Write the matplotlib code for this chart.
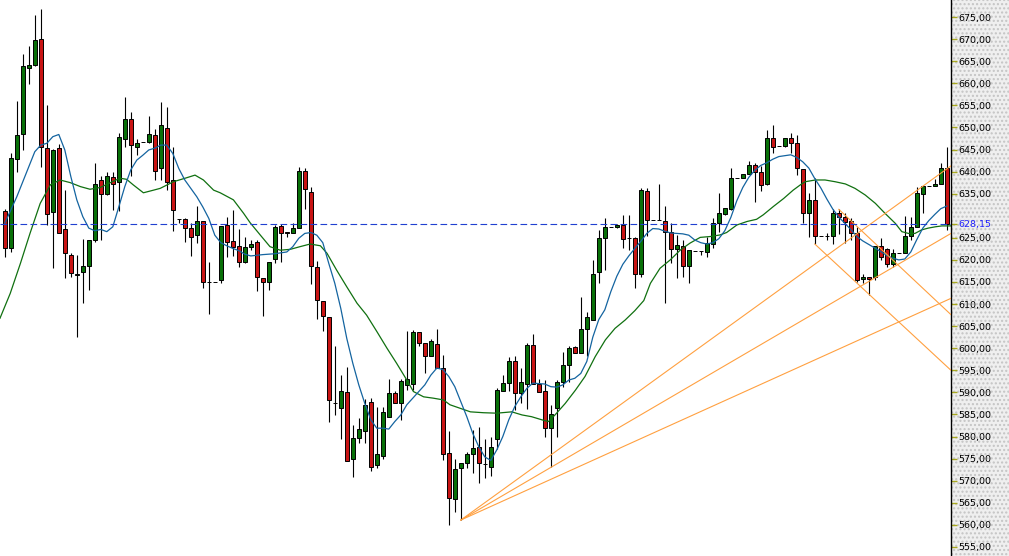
import matplotlib.pyplot as plt
import numpy as np
from matplotlib.patches import Rectangle

# daily candles (index 0 = leftmost)
opens = [631.1, 622.6, 642.8, 648.4, 663.4, 664.1, 670.0, 645.3, 630.9, 645.3,
         626.9, 621.1, 616.5, 617.3, 618.7, 624.4, 638.2, 634.85, 638.85, 637.7,
         647.3, 652.0, 645.5, 646.6, 646.6, 648.3, 640.7, 649.95, 638.1, 629.2,
         629.2, 627.15, 625.65, 628.85, 615.1, 614.9, 615.45, 627.9, 624.3, 623.15,
         619.6, 622.85, 624.0, 615.8, 615.1, 620.1, 627.7, 626.3, 626.0, 627.15,
         640.1, 635.3, 618.3, 610.8, 607.0, 587.6, 586.4, 590.0, 574.85, 579.6,
         581.35, 587.8, 573.6, 575.7, 584.5, 589.8, 587.7, 591.7, 591.8, 603.6,
         601.1, 598.25, 600.9, 595.6, 576.2, 565.8, 572.8, 574.1, 576.0, 577.7,
         573.7, 573.2, 579.4, 590.4, 592.1, 597.1, 589.8, 591.9, 600.7, 591.8,
         590.4, 582.0, 586.55, 592.4, 596.1, 600.2, 599.0, 604.3, 606.4, 617.3,
         624.9, 627.4, 627.4, 627.9, 625.0, 624.9, 616.7, 635.6, 629.0, 629.0,
         628.8, 626.4, 622.4, 623.2, 618.7, 622.1, 622.1, 621.9, 623.6, 628.3,
         630.4, 631.5, 638.5, 638.5, 639.45, 641.5, 639.8, 637.1, 647.5, 645.8,
         645.8, 647.5, 646.4, 640.5, 630.55, 633.6, 625.4, 625.4, 625.5, 630.55,
         629.8, 628.7, 626.2, 615.6, 616.1, 616.2, 623.15, 622.4, 619.1, 621.5,
         621.5, 625.4, 627.4, 634.9, 636.7, 636.7, 637.1, 640.7]
highs = [631.5, 644.1, 656.0, 666.6, 668.4, 675.5, 676.8, 655.1, 645.2, 646.2,
         635.8, 621.6, 621.1, 624.7, 624.5, 641.9, 639.0, 640.0, 639.8, 648.8,
         656.8, 653.4, 647.3, 646.6, 652.6, 649.6, 655.8, 654.7, 645.6, 629.3,
         629.4, 628.4, 632.2, 628.85, 619.6, 614.9, 627.7, 629.8, 631.2, 626.9,
         625.1, 624.4, 624.4, 615.8, 619.6, 627.9, 628.05, 626.3, 628.4, 640.95,
         640.7, 636.4, 619.8, 610.8, 607.0, 600.5, 594.0, 595.8, 582.6, 584.1,
         588.4, 588.7, 586.8, 586.8, 593.0, 590.3, 593.0, 603.8, 604.1, 603.75,
         601.1, 602.2, 604.3, 598.5, 581.3, 574.9, 574.1, 576.4, 581.5, 582.1,
         579.4, 580.0, 590.9, 594.0, 598.1, 598.25, 595.5, 601.3, 603.2, 593.0,
         592.8, 587.2, 592.7, 599.1, 600.5, 600.5, 611.5, 608.1, 620.0, 626.8,
         629.6, 627.4, 628.1, 630.2, 630.2, 625.1, 636.2, 636.2, 629.0, 637.3,
         632.1, 628.3, 625.7, 624.5, 622.25, 622.1, 622.1, 625.3, 629.4, 635.2,
         631.7, 640.7, 638.5, 639.45, 642.5, 641.9, 641.3, 649.4, 650.55, 645.8,
         647.5, 648.8, 648.3, 640.5, 635.2, 638.5, 625.4, 626.0, 631.45, 631.45,
         630.55, 629.4, 627.4, 616.8, 616.2, 623.2, 624.9, 622.6, 622.4, 621.5,
         629.9, 629.8, 636.6, 636.7, 636.7, 638.25, 641.9, 645.6]
lows = [620.6, 621.9, 639.8, 645.0, 659.8, 664.0, 641.1, 627.8, 618.2, 626.0,
        615.8, 616.2, 602.5, 610.3, 613.2, 624.1, 624.4, 634.8, 631.2, 631.0,
        645.6, 639.1, 643.75, 646.6, 646.4, 638.1, 638.1, 635.8, 626.6, 628.4,
        624.1, 620.9, 623.9, 613.6, 607.7, 614.9, 614.7, 620.7, 620.9, 618.5,
        619.2, 622.2, 613.0, 607.4, 613.3, 619.2, 619.6, 625.3, 626.0, 627.15,
        631.45, 614.5, 606.55, 603.8, 583.2, 584.9, 579.4, 574.5, 570.9, 578.5,
        578.5, 572.3, 572.8, 574.85, 584.5, 587.5, 583.8, 590.55, 590.5, 600.4,
        594.5, 598.2, 595.6, 574.7, 560.0, 563.0, 561.1, 572.8, 571.7, 569.4,
        570.6, 571.1, 577.1, 590.4, 590.4, 586.0, 587.5, 586.2, 591.8, 590.0,
        580.0, 573.2, 580.0, 591.3, 592.4, 599.0, 599.0, 598.25, 606.4, 614.7,
        617.7, 627.4, 627.2, 622.8, 622.25, 613.6, 616.2, 625.4, 629.0, 629.0,
        610.3, 619.2, 615.8, 616.2, 614.85, 622.1, 621.1, 620.6, 622.6, 626.4,
        630.2, 631.3, 638.5, 638.5, 639.45, 633.0, 635.5, 637.0, 644.1, 645.8,
        645.6, 644.1, 639.2, 628.3, 625.1, 623.6, 625.4, 624.5, 623.6, 625.9,
        623.9, 624.5, 615.1, 614.7, 612.1, 615.45, 620.0, 618.5, 618.5, 621.5,
        621.5, 624.4, 627.4, 630.7, 636.7, 636.7, 637.1, 626.8]
closes = [622.6, 643.0, 648.3, 663.9, 664.1, 669.8, 645.6, 630.5, 644.9, 626.2,
          621.5, 617.0, 616.9, 618.6, 624.5, 637.2, 634.85, 639.0, 637.3, 647.9,
          651.9, 646.0, 646.55, 646.6, 648.4, 640.2, 650.5, 637.7, 631.2, 629.2,
          627.15, 625.1, 628.85, 615.1, 615.1, 614.9, 627.7, 624.1, 623.0, 619.6,
          622.85, 623.6, 616.1, 615.1, 619.6, 627.5, 626.2, 626.2, 627.15, 640.1,
          636.0, 618.6, 610.9, 607.3, 588.3, 587.5, 590.3, 574.5, 579.6, 581.7,
          587.2, 573.0, 576.0, 585.65, 589.8, 587.7, 592.6, 592.95, 603.75, 601.3,
          598.2, 601.6, 595.6, 576.0, 566.2, 572.6, 574.1, 575.98, 577.5, 574.1,
          573.7, 577.6, 590.5, 592.1, 597.1, 589.8, 592.4, 600.7, 591.8, 590.0,
          582.0, 585.05, 592.4, 596.2, 600.0, 599.0, 604.3, 607.0, 616.7, 624.9,
          627.4, 627.4, 627.8, 624.7, 625.0, 616.7, 635.8, 629.0, 629.0, 629.0,
          626.25, 622.4, 623.4, 618.7, 622.25, 622.1, 622.1, 623.8, 628.3, 630.55,
          631.7, 638.5, 638.5, 639.45, 641.5, 639.8, 637.0, 647.5, 645.6, 645.8,
          647.5, 646.4, 640.7, 630.55, 633.6, 625.4, 625.4, 625.4, 630.55, 629.65,
          628.5, 626.0, 615.45, 616.1, 615.6, 623.2, 620.6, 619.1, 621.5, 621.5,
          625.4, 627.5, 635.2, 636.7, 636.7, 637.2, 640.7, 628.15]

# short moving average (blue), read at candle positions
blue_idx = list(range(0, 42)) + [43, 45, 47] + list(range(48, 158))
blue_val = [628.3, 631.3, 634.3, 637.7, 641.1, 644.5, 646.0, 646.4, 647.9, 648.4,
            644.9, 638.9, 633.6, 629.8, 627.2, 626.6, 626.9, 626.4, 627.5, 632.0,
            636.6, 640.4, 642.6, 643.7, 644.9, 645.3, 646.0, 646.0, 644.1, 640.7,
            638.1, 636.2, 634.3, 632.0, 629.4, 625.6, 623.9, 623.2, 622.6, 622.1,
            621.3, 620.9, 621.2, 621.4, 621.8,
            623.0, 624.9, 626.0, 626.2, 625.6, 623.9, 619.2, 614.7, 609.0, 602.2,
            596.6, 591.7, 587.5, 583.8, 581.9, 581.9, 581.7, 583.4, 584.9, 587.2,
            588.7, 590.2, 591.7, 593.9, 595.5, 595.2, 593.6, 591.3, 587.9, 584.5,
            580.7, 577.7, 575.4, 574.6, 577.0, 580.0, 583.8, 586.8, 589.0, 590.9,
            592.1, 592.0, 591.9, 591.3, 591.2, 591.7, 592.8, 593.2, 594.3, 597.0,
            602.5, 606.5, 608.7, 612.8, 616.3, 619.0, 620.9, 622.6, 624.2, 626.0,
            627.1, 627.0, 626.5, 626.1, 626.0, 625.9, 625.6, 624.5, 623.9, 623.6,
            623.9, 624.8, 626.6, 629.6, 633.4, 636.4, 638.7, 640.3, 641.4, 642.0,
            642.8, 643.4, 643.6, 643.8, 643.2, 642.2, 640.8, 638.4, 636.3, 633.8,
            631.5, 629.7, 628.3, 626.9, 625.3, 624.3, 623.5, 622.7, 621.9, 621.0,
            620.4, 620.0, 620.2, 621.8, 624.6, 627.2, 628.9, 630.3, 631.6, 632.2]

# long moving average (green), read at candle positions
green_idx = [-0.8, 0.9, 2.6, 4.2, 5.9, 7.6, 9.2, 10.9, 12.6, 14.2,
             15.9, 17.6, 19.2, 20.3, 21.4, 23.1, 24.8, 25.9, 28.1, 30.3,
             31.7, 33.1, 34.8, 35.9, 38.1, 39.8, 40.9, 42.6, 44.2, 45.9,
             47.6, 49.2, 50.9, 52.6, 53.7, 55.3, 57.0, 58.7, 60.3, 62.0,
             63.7, 65.3, 67.0, 68.1, 69.8, 71.4, 73.1, 74.2, 75.9, 77.6,
             79.8, 82.0, 84.5, 86.2, 87.8, 89.5, 90.6, 91.7, 93.4, 95.1,
             96.7, 98.4, 100.1, 101.7, 103.4, 105.0, 106.5, 107.6, 109.2, 110.9,
             112.6, 114.2, 115.9, 117.6, 119.2, 120.3, 122.0, 123.7, 125.3, 126.4,
             128.1, 129.8, 131.4, 132.6, 133.4, 135.1, 136.7, 138.4, 140.1, 141.7,
             143.4, 145.1, 146.7, 148.4, 149.5, 150.6, 151.7, 152.8, 153.9, 155.1,
             156.2, 157.7]
green_val = [606.8, 612.4, 619.2, 626.0, 632.8, 637.0, 638.1, 637.5, 636.6, 636.0,
             636.4, 637.5, 638.5, 638.25, 637.0, 635.2, 635.8, 636.2, 637.7, 638.6,
             639.2, 638.1, 635.8, 635.2, 633.6, 630.55, 628.4, 625.6, 623.0, 622.2,
             622.4, 623.0, 623.6, 623.2, 621.5, 617.7, 613.9, 610.2, 607.5, 603.8,
             600.0, 596.6, 592.8, 590.2, 589.0, 588.7, 588.3, 587.2, 586.4, 585.6,
             585.4, 585.3, 585.6, 584.9, 584.5, 583.8, 583.4, 584.9, 587.5, 590.5,
             593.6, 598.1, 601.9, 604.5, 606.4, 608.5, 610.8, 614.7, 618.1, 620.0,
             622.25, 623.8, 625.1, 625.3, 625.65, 626.2, 627.9, 628.7, 629.2, 630.2,
             632.1, 633.9, 635.8, 637.0, 637.7, 638.1, 638.1, 637.7, 637.2, 636.2,
             634.7, 632.8, 630.55, 628.3, 626.4, 626.0, 626.0, 626.8, 627.2, 627.5,
             627.7, 627.7]

# fan from the low of candle 76, price of each ray at the right edge
fan_origin_idx = 76
fan_end_prices = [641.3, 626.0, 611.3]
# two falling lines: start candle, start price, price at the right edge
down_start_idx = [139, 135]
down_start_price = [631.45, 623.6]
down_end_prices = [607.6, 595.0]

last_price = 628.15
price_ticks = [p for p in range(555, 680, 5) if p != 630]

n = len(closes)
x = np.arange(n)
o = np.array(opens)
c = np.array(closes)
x_right = n - 0.3

fig = plt.figure(figsize=(10.09, 5.56), dpi=100)
fig.patch.set_facecolor("#ececec")
# dotted grey price panel on the right, kept behind the axes
fig.patches.append(Rectangle((951 / 1009, 0), 58 / 1009, 1, transform=fig.transFigure,
                             facecolor="#efefef", edgecolor="#c4c4c4", hatch="....",
                             linewidth=0, zorder=-5))
ax = fig.add_axes([0, 0, 951 / 1009, 1])
ax.set_zorder(2)
ax.set_facecolor("white")

ax.vlines(x, lows, highs, color="black", linewidth=0.8, zorder=2)
up = c >= o
body_lo = np.minimum(o, c)
body_h = np.abs(c - o)
ax.bar(x[up], body_h[up], bottom=body_lo[up], width=0.72,
       color="#087008", edgecolor="black", linewidth=0.7, zorder=3)
ax.bar(x[~up], body_h[~up], bottom=body_lo[~up], width=0.72,
       color="#c81414", edgecolor="black", linewidth=0.7, zorder=3)

ax.plot(green_idx, green_val, color="#107010", linewidth=0.9, zorder=4)
ax.plot(blue_idx, blue_val, color="#1464a0", linewidth=0.9, zorder=4)

fan_p0 = lows[fan_origin_idx]
for pe in fan_end_prices:
    ax.plot([fan_origin_idx, x_right], [fan_p0, pe], color="#ffa040",
            linewidth=0.8, zorder=5)
for xs, ps, pe in zip(down_start_idx, down_start_price, down_end_prices):
    ax.plot([xs, x_right], [ps, pe], color="#ffa040", linewidth=0.8, zorder=5)

ax.axhline(last_price, color="#2040d0", linewidth=0.8,
           linestyle=(0, (6, 3)), zorder=5)

ax.set_xlim(-0.8, x_right)
ax.set_ylim(552.96, 678.85)
ax.set_xticks([])

ticks = price_ticks + [last_price]
labels = [f"{p:.2f}".replace(".", ",") for p in ticks]
ax.yaxis.tick_right()
ax.set_yticks(ticks)
ax.set_yticklabels(labels)
ax.tick_params(axis="y", direction="out", length=4, width=1,
               color="#a8a820", pad=1, labelsize=6.8, labelcolor="black")
ax.get_yticklabels()[-1].set_color("#2020ff")

for s in ["top", "bottom", "left"]:
    ax.spines[s].set_visible(False)
ax.spines["right"].set_color("black")
ax.spines["right"].set_linewidth(1)

fig.savefig("out.png", dpi=100, facecolor=fig.get_facecolor())
